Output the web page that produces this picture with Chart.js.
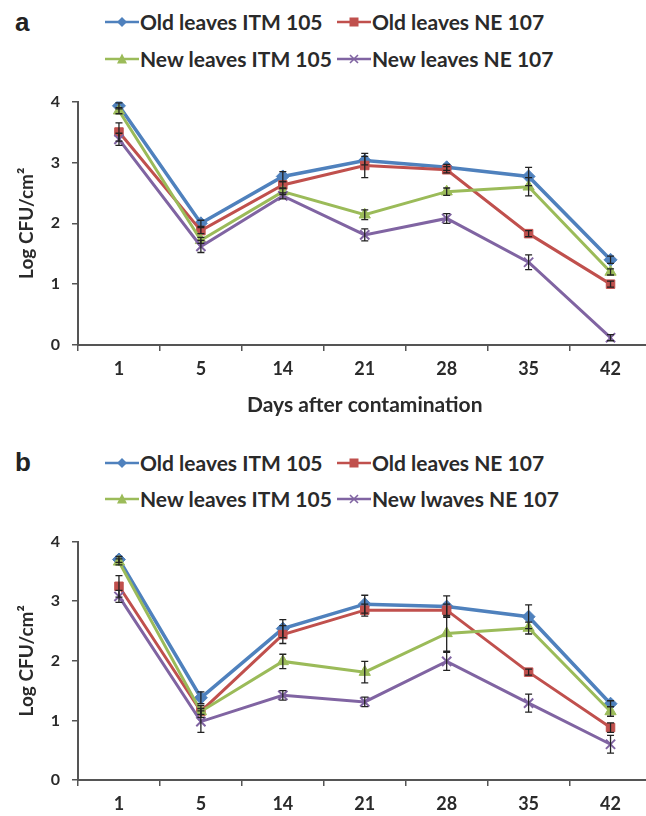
<!DOCTYPE html>
<html>
<head>
<meta charset="utf-8">
<script src="https://cdn.jsdelivr.net/npm/chart.js@4/dist/chart.umd.min.js"></script>
<style>
html,body{margin:0;padding:0;width:646px;height:816px;overflow:hidden;background:#fff;}
.wrap{position:absolute;left:0;}
.letter{position:absolute;font-family:"Liberation Sans",Arial,sans-serif;font-weight:bold;font-size:26px;color:#222;line-height:1;}
.lg{position:absolute;font-family:Lato,"Open Sans",sans-serif;font-weight:bold;font-size:21px;color:#2a2a2a;white-space:nowrap;line-height:24px;height:24px;}
.lg svg{position:absolute;left:0;top:5px;}
.lg span{position:absolute;top:0;}
</style>
</head>
<body>
<div class="letter" style="left:15px;top:9px;">a</div>
<div class="letter" style="left:15px;top:449px;">b</div>
<div id="legA"></div>
<div id="legB"></div>
<div class="wrap" style="top:80px;"><canvas id="cA" width="660" height="340"></canvas></div>
<div class="wrap" style="top:520px;"><canvas id="cB" width="660" height="296"></canvas></div>
<script>
// ---- data ----
const days = ["1", "5", "14", "21", "28", "35", "42"];
const seriesNamesA = ["Old leaves ITM 105", "Old leaves NE 107", "New leaves ITM 105", "New leaves NE 107"];
const seriesNamesB = ["Old leaves ITM 105", "Old leaves NE 107", "New leaves ITM 105", "New lwaves NE 107"];
const yTicks = [0, 1, 2, 3, 4];

// Panel a (Log CFU/cm2)
const oldITM_a = [3.93, 2.00, 2.77, 3.03, 2.92, 2.77, 1.40];
const oldNE_a  = [3.50, 1.88, 2.63, 2.95, 2.88, 1.83, 1.00];
const newITM_a = [3.85, 1.72, 2.52, 2.14, 2.52, 2.60, 1.20];
const newNE_a  = [3.38, 1.62, 2.45, 1.81, 2.08, 1.36, 0.12];
const oldITM_a_err = [0.05, 0.05, 0.08, 0.07, 0.05, 0.15, 0.06];
const oldNE_a_err  = [0.15, 0.05, 0.05, 0.20, 0.05, 0.05, 0.05];
const newITM_a_err = [0.05, 0.05, 0.05, 0.08, 0.06, 0.15, 0.05];
const newNE_a_err  = [0.10, 0.10, 0.05, 0.10, 0.08, 0.12, 0.05];

// Panel b (Log CFU/cm2)
const oldITM_b = [3.70, 1.38, 2.54, 2.95, 2.91, 2.74, 1.28];
const oldNE_b  = [3.25, 1.15, 2.44, 2.85, 2.85, 1.81, 0.88];
const newITM_b = [3.66, 1.15, 1.99, 1.81, 2.46, 2.55, 1.15];
const newNE_b  = [3.08, 0.98, 1.42, 1.31, 1.99, 1.29, 0.60];
const oldITM_b_err = [0.05, 0.10, 0.15, 0.15, 0.18, 0.20, 0.05];
const oldNE_b_err  = [0.18, 0.10, 0.15, 0.10, 0.10, 0.05, 0.08];
const newITM_b_err = [0.05, 0.05, 0.12, 0.18, 0.30, 0.10, 0.08];
const newNE_b_err  = [0.10, 0.18, 0.08, 0.08, 0.15, 0.15, 0.15];

// ---- styles ----
const colors = ["#4F81BD", "#C0504D", "#9BBB59", "#8064A2"];
const markers = ["rectRot", "rect", "triangle", "crossRot"];
const radii = [6.5, 6, 6.5, 6.5];
const widths = [3.5, 3, 3, 3];
const FONT = "Lato, 'Open Sans', sans-serif";
const TEXT = "#2a2a2a";
const AXIS = "#555";

const errorBars = {
  id: 'errorBars',
  afterDatasetsDraw(chart) {
    const ctx = chart.ctx;
    const ys = chart.scales.y;
    ctx.save();
    ctx.strokeStyle = '#222';
    ctx.lineWidth = 1.3;
    chart.data.datasets.forEach((ds, i) => {
      const meta = chart.getDatasetMeta(i);
      if (!ds.errors) return;
      meta.data.forEach((pt, j) => {
        const v = ds.data[j], e = ds.errors[j];
        const y1 = ys.getPixelForValue(v + e), y2 = ys.getPixelForValue(v - e);
        const x = pt.x;
        ctx.beginPath();
        ctx.moveTo(x, y1); ctx.lineTo(x, y2);
        ctx.moveTo(x - 3.5, y1); ctx.lineTo(x + 3.5, y1);
        ctx.moveTo(x - 3.5, y2); ctx.lineTo(x + 3.5, y2);
        ctx.stroke();
      });
    });
    ctx.restore();
  }
};

function makeDatasets(names, vals, errs) {
  return vals.map((v, i) => ({
    label: names[i],
    data: v,
    errors: errs[i],
    borderColor: colors[i],
    backgroundColor: colors[i],
    pointBackgroundColor: colors[i],
    pointBorderColor: colors[i],
    pointStyle: markers[i],
    pointRadius: radii[i],
    pointBorderWidth: markers[i] === 'crossRot' ? 2 : 1,
    borderWidth: widths[i],
    tension: 0,
    order: 3 - i
  }));
}

function makeChart(id, datasets, showXTitle, padTop, xAxisH) {
  return new Chart(document.getElementById(id), {
    type: 'line',
    data: { labels: days, datasets: datasets },
    options: {
      responsive: false,
      animation: false,
      devicePixelRatio: 1,
      layout: { padding: { top: padTop, right: 8, left: 0, bottom: 0 } },
      plugins: { legend: { display: false }, tooltip: { enabled: false } },
      scales: {
        x: {
          type: 'category',
          offset: true,
          afterFit: s => { s.height = xAxisH; },
          grid: { offset: true, drawOnChartArea: false, drawTicks: true, tickLength: 6, color: AXIS, lineWidth: 1.5 },
          border: { color: AXIS, width: 2 },
          ticks: { color: TEXT, font: { family: FONT, size: 18, weight: 'bold' }, padding: 7, maxRotation: 0 },
          title: { display: showXTitle, text: 'Days after contamination', color: TEXT, font: { family: FONT, size: 21, weight: 'bold' }, padding: { top: 0, bottom: 2 } }
        },
        y: {
          min: yTicks[0], max: yTicks[yTicks.length - 1],
          afterFit: s => { s.width = 78; },
          afterBuildTicks: s => { s.ticks = yTicks.map(v => ({ value: v })); },
          grid: { drawOnChartArea: false, drawTicks: true, tickLength: 6, color: AXIS, lineWidth: 1.5 },
          border: { color: AXIS, width: 2 },
          ticks: { color: TEXT, font: { family: FONT, size: 16, weight: 'bold' }, padding: 12 },
          title: { display: true, text: 'Log CFU/cm²', color: TEXT, font: { family: FONT, size: 19, weight: 'bold' }, padding: { top: 15, bottom: 0 } }
        }
      }
    },
    plugins: [errorBars]
  });
}

makeChart('cA', makeDatasets(seriesNamesA, [oldITM_a, oldNE_a, newITM_a, newNE_a], [oldITM_a_err, oldNE_a_err, newITM_a_err, newNE_a_err]), true, 18, 75);
makeChart('cB', makeDatasets(seriesNamesB, [oldITM_b, oldNE_b, newITM_b, newNE_b], [oldITM_b_err, oldNE_b_err, newITM_b_err, newNE_b_err]), false, 17, 36);

// ---- legends (HTML text) ----
function markerSvg(i) {
  const c = colors[i];
  let m = '';
  if (i === 0) m = `<polygon points="17,2 22,7 17,12 12,7" fill="${c}"/>`;
  if (i === 1) m = `<rect x="12.5" y="2.5" width="9" height="9" fill="${c}"/>`;
  if (i === 2) m = `<polygon points="17,1.5 22,11.5 12,11.5" fill="${c}"/>`;
  if (i === 3) m = `<path d="M13,3 L21,11 M21,3 L13,11" stroke="${c}" stroke-width="1.6"/>`;
  return `<svg width="34" height="14"><line x1="0" y1="7" x2="34" y2="7" stroke="${c}" stroke-width="2.6"/>${m}</svg>`;
}
function buildLegend(el, names, rows) {
  const pos = [[105, rows[0]], [337, rows[0]], [105, rows[1]], [337, rows[1]]];
  let html = '';
  names.forEach((n, i) => {
    html += `<div class="lg" style="left:${pos[i][0]}px;top:${pos[i][1] - 12}px;">${markerSvg(i)}<span style="left:35px;">${n}</span></div>`;
  });
  document.getElementById(el).innerHTML = html;
}
buildLegend('legA', seriesNamesA, [22, 59]);
buildLegend('legB', seriesNamesB, [463, 499]);
</script>
</body>
</html>
